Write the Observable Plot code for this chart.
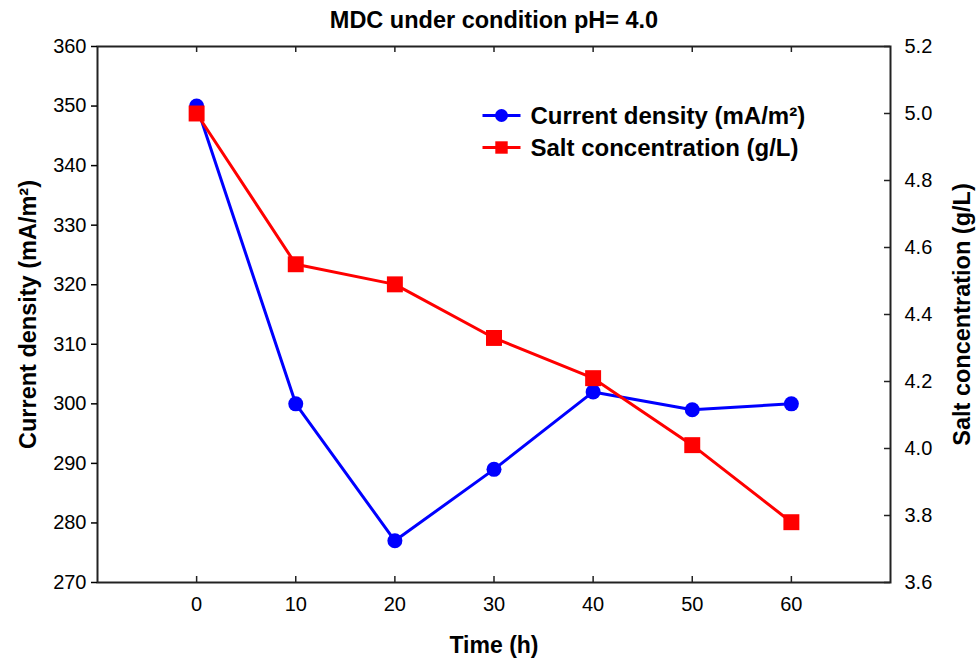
<!DOCTYPE html>
<html>
<head>
<meta charset="utf-8">
<script src="https://cdn.jsdelivr.net/npm/d3@7"></script>
<script src="https://cdn.jsdelivr.net/npm/@observablehq/plot@0.6"></script>
<style>
  body { margin: 0; background: #fff; }
  svg { font-family: "Liberation Sans", Arial, sans-serif; }
  svg g[aria-label$="tick label"] { font-size: 20px; }
</style>
</head>
<body>
<div id="chart"></div>
<script>
const time = [0, 10, 20, 30, 40, 50, 60];
const currentDensity = [350, 300, 277, 289, 302, 299, 300];
const saltConc = [5.00, 4.55, 4.49, 4.33, 4.21, 4.01, 3.78];
const xTicks = [0, 10, 20, 30, 40, 50, 60];
const leftTicks = [270, 280, 290, 300, 310, 320, 330, 340, 350, 360];
const rightTicks = [3.6, 3.8, 4.0, 4.2, 4.4, 4.6, 4.8, 5.0, 5.2];
const legendLabels = ["Current density (mA/m\u00B2)", "Salt concentration (g/L)"];
const titleText = "MDC under condition pH= 4.0";

// map right-axis values onto the left scale
const L0 = 270, L1 = 360, R0 = 3.6, R1 = 5.2;
const toLeft = v => L0 + (v - R0) * (L1 - L0) / (R1 - R0);
const toRight = v => R0 + (v - L0) * (R1 - R0) / (L1 - L0);

const cur = time.map((t, i) => ({t, v: currentDensity[i]}));
const salt = time.map((t, i) => ({t, v: toLeft(saltConc[i])}));

const W = 977, H = 659;
const mL = 97, mR = 87, mT = 46, mB = 77;
const fw = W - mL - mR, fh = H - mT - mB;

const lineSym = { draw(ctx, size) { ctx.moveTo(-19, 0); ctx.lineTo(19, 0); } };
const squareSym = { draw(ctx, size) { const s = Math.sqrt(size) / 2; ctx.rect(-s, -s, 2 * s, 2 * s); } };

const chart = Plot.plot({
  width: W, height: H,
  marginLeft: mL, marginRight: mR, marginTop: mT, marginBottom: mB,
  style: { fontFamily: '"Liberation Sans", Arial, sans-serif', color: "#000", background: "#fff" },
  x: { domain: [-10, 70] },
  y: { domain: [L0, L1] },
  marks: [
    Plot.frame({ stroke: "#222", strokeWidth: 2 }),
    // x axis labels (bottom)
    Plot.axisX({ ticks: xTicks, tickSize: 0, tickPadding: 14, fontSize: 20, label: null, anchor: "bottom" }),
    Plot.tickX(xTicks, { x: d => d, insetTop: fh - 6, stroke: "#222", strokeWidth: 1.5 }),
    Plot.tickX(xTicks, { x: d => d, insetBottom: fh - 6, stroke: "#222", strokeWidth: 1.5 }),
    // left axis
    Plot.axisY({ anchor: "left", ticks: leftTicks, tickSize: 6, tickPadding: 5, fontSize: 20, label: null, strokeWidth: 1.5 }),
    // right axis
    Plot.axisY({ anchor: "right", ticks: rightTicks.map(toLeft), tickFormat: v => toRight(v).toFixed(1), tickSize: 0, tickPadding: 14, fontSize: 20, label: null }),
    Plot.tickY(rightTicks.map(toLeft), { y: d => d, insetLeft: fw - 6, stroke: "#222", strokeWidth: 1.5 }),
    // series
    Plot.line(cur, { x: "t", y: "v", stroke: "#0000ff", strokeWidth: 3 }),
    Plot.line(salt, { x: "t", y: "v", stroke: "#ff0000", strokeWidth: 3 }),
    Plot.dot(cur, { x: "t", y: "v", r: 7.5, fill: "#0000ff", stroke: "none" }),
    Plot.dot(salt, { x: "t", y: "v", symbol: squareSym, r: 9, fill: "#ff0000", stroke: "none" }),
    // titles
    Plot.text([titleText], { frameAnchor: "top", dy: -26, textAnchor: "middle", lineAnchor: "middle", fontSize: 23.5, fontWeight: "bold", text: d => d }),
    Plot.text(["Time (h)"], { frameAnchor: "bottom", dy: 63, textAnchor: "middle", lineAnchor: "middle", fontSize: 23, fontWeight: "bold", text: d => d }),
    Plot.text(["Current density (mA/m\u00B2)"], { frameAnchor: "left", dx: -69, rotate: -90, textAnchor: "middle", lineAnchor: "middle", fontSize: 23.5, fontWeight: "bold", text: d => d }),
    Plot.text(["Salt concentration (g/L)"], { frameAnchor: "right", dx: 72, rotate: -90, textAnchor: "middle", lineAnchor: "middle", fontSize: 23.5, fontWeight: "bold", text: d => d }),
    // legend
    Plot.dot([0], { frameAnchor: "top-left", dx: 404, dy: 69, symbol: lineSym, stroke: "#0000ff", strokeWidth: 3 }),
    Plot.dot([0], { frameAnchor: "top-left", dx: 404, dy: 69, r: 6.5, fill: "#0000ff" }),
    Plot.dot([0], { frameAnchor: "top-left", dx: 404, dy: 101, symbol: lineSym, stroke: "#ff0000", strokeWidth: 3 }),
    Plot.dot([0], { frameAnchor: "top-left", dx: 404, dy: 101, symbol: squareSym, r: 7, fill: "#ff0000" }),
    Plot.text(legendLabels, { frameAnchor: "top-left", dx: 433, textAnchor: "start", lineAnchor: "middle", fontSize: 24, fontWeight: "bold", text: d => d, filter: (d, i) => i === 0, dy: 70 }),
    Plot.text(legendLabels, { frameAnchor: "top-left", dx: 433, textAnchor: "start", lineAnchor: "middle", fontSize: 24, fontWeight: "bold", text: d => d, filter: (d, i) => i === 1, dy: 102 })
  ]
});
document.getElementById("chart").appendChild(chart);
</script>
</body>
</html>
